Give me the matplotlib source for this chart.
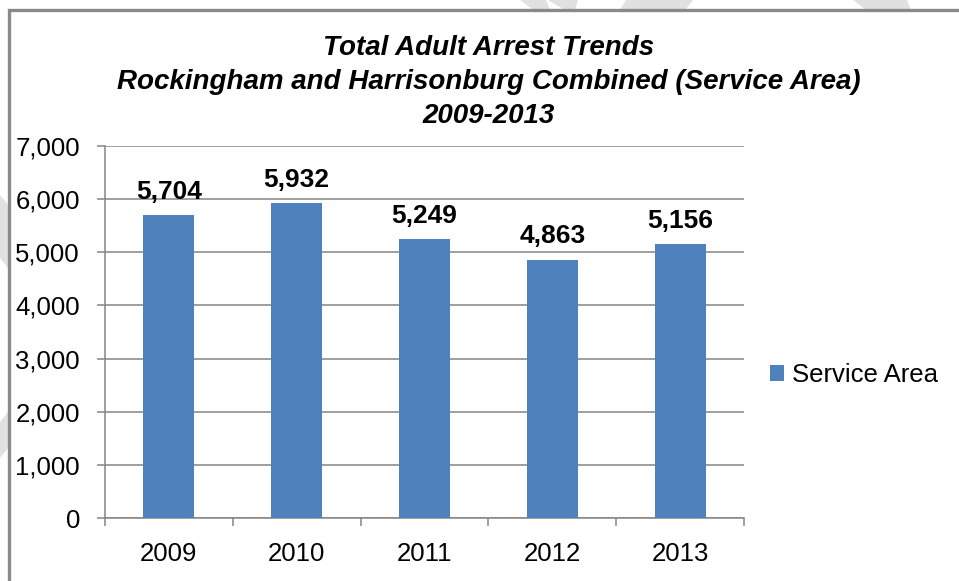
import matplotlib
matplotlib.use("Agg")
import matplotlib.pyplot as plt
from matplotlib.patches import Polygon, Rectangle, Patch
from matplotlib.ticker import FuncFormatter, FixedLocator

plt.rcParams['font.family'] = ['Liberation Sans', 'DejaVu Sans']

# data
years = ['2009', '2010', '2011', '2012', '2013']
arrests = [5704, 5932, 5249, 4863, 5156]
series_name = 'Service Area'
title_lines = ['Total Adult Arrest Trends',
               'Rockingham and Harrisonburg Combined (Service Area)',
               '2009-2013']

W, H = 959, 581
fig = plt.figure(figsize=(W / 100, H / 100), dpi=100)
fig.patch.set_facecolor('white')


def px(x, y):
    """pixel position (origin top-left) -> figure fraction"""
    return (x / W, 1 - y / H)


# faint background stamp outside the chart frame
stamp_color = '#e1e1e1'
stamp_shapes = [
    [(520, 0), (546, 0), (550, 10), (533, 10)],
    [(548, 0), (578, 0), (575, 10), (565, 10)],
    [(626, 0), (693, 0), (685, 10), (620, 10)],
    [(853, 0), (907, 0), (911, 10), (866, 10)],
    [(0, 195), (8, 205), (8, 268), (0, 258)],
    [(0, 422), (8, 412), (8, 448), (0, 458)],
]
for pts in stamp_shapes:
    fig.add_artist(Polygon([px(*p) for p in pts], closed=True,
                           transform=fig.transFigure, facecolor=stamp_color,
                           edgecolor='none', zorder=-3))

# chart frame (right and bottom edges run past the canvas)
x0, y0 = px(8.5, 10)
fig.add_artist(Rectangle((x0, -0.05), 1.1 - x0, y0 + 0.05,
                         transform=fig.transFigure, facecolor='white',
                         edgecolor='#8a8a8a', linewidth=2.4, zorder=-2))

# plot area
left, top = px(105, 146)
right, bottom = px(744, 518)
ax = fig.add_axes([left, bottom, right - left, top - bottom])
ax.set_facecolor('white')

bar_color = '#4F81BD'
grid_color = '#858585'
positions = list(range(len(years)))
bars = ax.bar(positions, arrests, width=0.4, color=bar_color,
              edgecolor='none', zorder=3, label=series_name)

ax.set_xlim(-0.5, len(years) - 0.5)
ax.set_ylim(0, 7000)
ax.yaxis.set_major_locator(FixedLocator(range(0, 7001, 1000)))
ax.yaxis.set_major_formatter(FuncFormatter(lambda v, p: f'{int(v):,}'))
ax.grid(axis='y', color=grid_color, linewidth=1.1, zorder=0)
ax.set_axisbelow(True)

for side in ('top', 'right'):
    ax.spines[side].set_visible(False)
for side in ('left', 'bottom'):
    ax.spines[side].set_color(grid_color)
    ax.spines[side].set_linewidth(1.1)

# category labels in the middle, tick marks on category boundaries
ax.set_xticks(positions)
ax.set_xticklabels(years)
ax.set_xticks([p - 0.5 for p in positions] + [len(years) - 0.5], minor=True)
ax.tick_params(axis='x', which='major', length=0, pad=17, labelsize=18.5,
               labelcolor='black')
ax.tick_params(axis='x', which='minor', length=6, width=1.1, color=grid_color,
               direction='out')
ax.tick_params(axis='y', which='major', length=6, width=1.1, color=grid_color,
               direction='out', pad=12, labelsize=18.5, labelcolor='black')

for rect, val in zip(bars, arrests):
    ax.annotate(f'{val:,}', (rect.get_x() + rect.get_width() / 2, val),
                xytext=(0, 8), textcoords='offset points', ha='center',
                va='bottom', fontsize=19, fontweight='bold', color='black')

# title
tx, ty = px(489, 35)
fig.text(tx, ty, '\n'.join(title_lines), ha='center', va='top',
         fontsize=20, fontweight='bold', fontstyle='italic',
         linespacing=1.39)

# legend
lx, ly = px(770, 375)
handle = Patch(facecolor=bar_color, edgecolor='none')
fig.legend([handle], [series_name], loc='center left',
           bbox_to_anchor=(lx, ly), bbox_transform=fig.transFigure,
           frameon=False, fontsize=18.5, handlelength=0.55,
           handleheight=0.55, handletextpad=0.3, borderpad=0,
           borderaxespad=0)

fig.savefig('out.png', dpi=100)
